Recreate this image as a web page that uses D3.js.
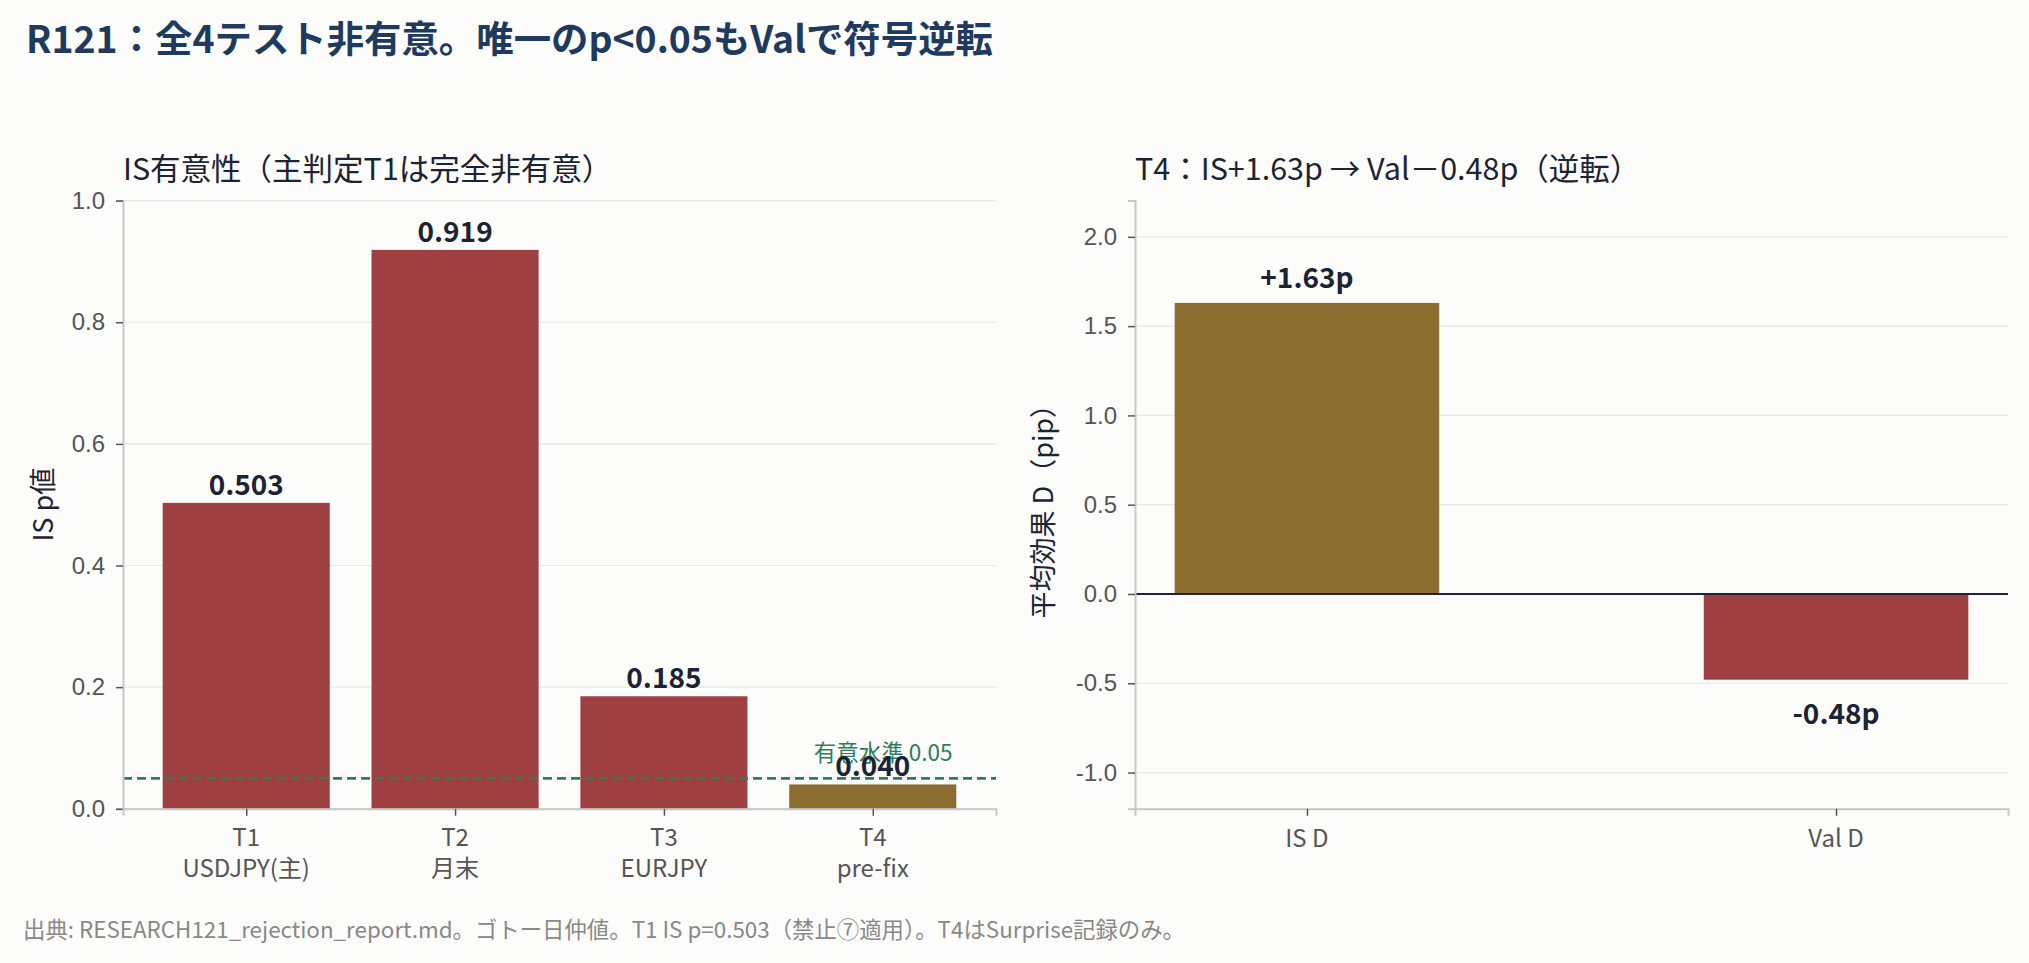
<!DOCTYPE html>
<html><head><meta charset="utf-8">
<script src="https://cdn.jsdelivr.net/npm/d3@7"></script>
<style>
html,body{margin:0;padding:0;background:#fcfcfa;}
svg{display:block;font-family:"Noto Sans CJK JP","Noto Sans",sans-serif;}
</style></head>
<body>
<script>
// ---- data ----
const testNames = ["T1","T2","T3","T4"];
const testSubs = ["USDJPY(主)","月末","EURJPY","pre-fix"];
const pValues = [0.503,0.919,0.185,0.040];
const pTicks = [0.0,0.2,0.4,0.6,0.8,1.0];
const alphaLevel = 0.05;
const effectNames = ["IS D","Val D"];
const effectValues = [1.63,-0.48];
const effectLabels = ["+1.63p","-0.48p"];
const effectTicks = [-1.0,-0.5,0.0,0.5,1.0,1.5,2.0];

const W=2029,H=963;
const RED="#9e3f41", BROWN="#8b6d30", NAVY="#1f3a5f", INK="#1c2333", GRID="#e6e6e4", SPINE="#c8c8c2", TICK="#555555", GREEN="#2e7d5b";
const TICKFS=24;

const svg=d3.select("body").append("svg").attr("width",W).attr("height",H);
svg.append("rect").attr("width",W).attr("height",H).attr("fill","#fcfcfa");

svg.append("text").attr("x",26).attr("y",53).attr("fill",NAVY)
  .attr("font-size",37.4).attr("font-weight",700)
  .text("R121：全4テスト非有意。唯一のp<0.05もValで符号逆転");

svg.append("text").attr("x",23).attr("y",938).attr("fill","#888")
  .attr("font-size",22.4)
  .text("出典: RESEARCH121_rejection_report.md。ゴトー日仲値。T1 IS p=0.503（禁止⑦適用）。T4はSurprise記録のみ。");

function fmt1(d){return d.toFixed(1);}
function styleAxes(list){
  list.forEach(a=>{a.select(".domain").attr("stroke",SPINE).attr("stroke-width",2);
    a.selectAll(".tick line").attr("stroke",TICK).attr("stroke-width",1.5);
    a.selectAll("text").attr("fill",TICK).attr("font-size",TICKFS).attr("font-family","inherit");});
}

// ---- left panel ----
{
const L=123,R=996,T=200.6,B=808.8;
const x=d3.scaleLinear().domain([-0.59,3.59]).range([L,R]);
const y=d3.scaleLinear().domain([0,1]).range([B,T]);
const g=svg.append("g");
g.selectAll(".gl").data(pTicks).join("line").attr("x1",L).attr("x2",R)
  .attr("y1",d=>y(d)).attr("y2",d=>y(d)).attr("stroke",GRID).attr("stroke-width",1.2);
const bw=x(0.4)-x(0);
g.selectAll(".bar").data(pValues).join("rect")
  .attr("x",(d,i)=>x(i)-bw).attr("width",2*bw)
  .attr("y",d=>y(d)).attr("height",d=>y(0)-y(d))
  .attr("fill",d=>d<alphaLevel?BROWN:RED);
// threshold
g.append("line").attr("x1",L).attr("x2",R).attr("y1",y(alphaLevel)).attr("y2",y(alphaLevel))
  .attr("stroke",GREEN).attr("stroke-width",2.6).attr("stroke-dasharray","9,5");
g.append("text").attr("x",x(3.05)).attr("y",y(alphaLevel)-17).attr("text-anchor","middle")
  .attr("fill",GREEN).attr("font-size",22.5).text("有意水準 0.05");
// value labels
g.selectAll(".vl").data(pValues).join("text")
  .attr("x",(d,i)=>x(i)).attr("y",d=>y(d)-8).attr("text-anchor","middle")
  .attr("fill",INK).attr("font-size",28).attr("font-weight",700).text(d=>d.toFixed(3));
// axes
const ya=d3.axisLeft(y).tickValues(pTicks).tickFormat(fmt1).tickSize(7).tickPadding(11);
const yg=g.append("g").attr("transform",`translate(${L},0)`).call(ya);
const xa=d3.axisBottom(x).tickValues([0,1,2,3]).tickFormat("").tickSize(7);
const xg=g.append("g").attr("transform",`translate(0,${B})`).call(xa);
styleAxes([yg,xg]);
testNames.forEach((t,i)=>{
  g.append("text").attr("x",x(i)).attr("y",846).attr("text-anchor","middle").attr("fill",TICK).attr("font-size",TICKFS).text(t);
  g.append("text").attr("x",x(i)).attr("y",877).attr("text-anchor","middle").attr("fill",TICK).attr("font-size",TICKFS).text(testSubs[i]);
});
g.append("text").attr("transform",`translate(53,${(T+B)/2}) rotate(-90)`).attr("text-anchor","middle")
  .attr("fill",INK).attr("font-size",27).text("IS p値");
g.append("text").attr("x",L).attr("y",180).attr("fill",INK).attr("font-size",30.5)
  .text("IS有意性（主判定T1は完全非有意）");
}

// ---- right panel ----
{
const L=1135,R=2008,T=200.6,B=808.8;
const x=d3.scaleLinear().domain([-0.325,1.325]).range([L,R]);
const y=d3.scaleLinear().domain([-1.203,2.203]).range([B,T]);
const g=svg.append("g");
g.selectAll(".gl").data(effectTicks).join("line").attr("x1",L).attr("x2",R)
  .attr("y1",d=>y(d)).attr("y2",d=>y(d)).attr("stroke",GRID).attr("stroke-width",1.2);
const bw=x(0.25)-x(0);
g.selectAll(".bar").data(effectValues).join("rect")
  .attr("x",(d,i)=>x(i)-bw).attr("width",2*bw)
  .attr("y",d=>y(Math.max(0,d))).attr("height",d=>Math.abs(y(d)-y(0)))
  .attr("fill",d=>d>=0?BROWN:RED);
g.append("line").attr("x1",L).attr("x2",R).attr("y1",y(0)).attr("y2",y(0))
  .attr("stroke",INK).attr("stroke-width",2);
g.selectAll(".vl").data(effectValues).join("text")
  .attr("x",(d,i)=>x(i)).attr("y",d=>d>=0?y(d)-15:y(d)+44).attr("text-anchor","middle")
  .attr("fill",INK).attr("font-size",28).attr("font-weight",700).text((d,i)=>effectLabels[i]);
const ya=d3.axisLeft(y).tickValues(effectTicks).tickFormat(fmt1).tickSize(7).tickPadding(11);
const yg=g.append("g").attr("transform",`translate(${L},0)`).call(ya);
const xa=d3.axisBottom(x).tickValues([0,1]).tickFormat("").tickSize(7);
const xg=g.append("g").attr("transform",`translate(0,${B})`).call(xa);
styleAxes([yg,xg]);
effectNames.forEach((t,i)=>{
  g.append("text").attr("x",x(i)).attr("y",847).attr("text-anchor","middle").attr("fill",TICK).attr("font-size",TICKFS).text(t);
});
g.append("text").attr("transform",`translate(1053,${(T+B)/2}) rotate(-90)`).attr("text-anchor","middle")
  .attr("fill",INK).attr("font-size",27).text("平均効果 D（pip）");
g.append("text").attr("x",L).attr("y",180).attr("fill",INK).attr("font-size",30.5)
  .text("T4：IS+1.63p → Val－0.48p（逆転）");
}
</script>
</body></html>
